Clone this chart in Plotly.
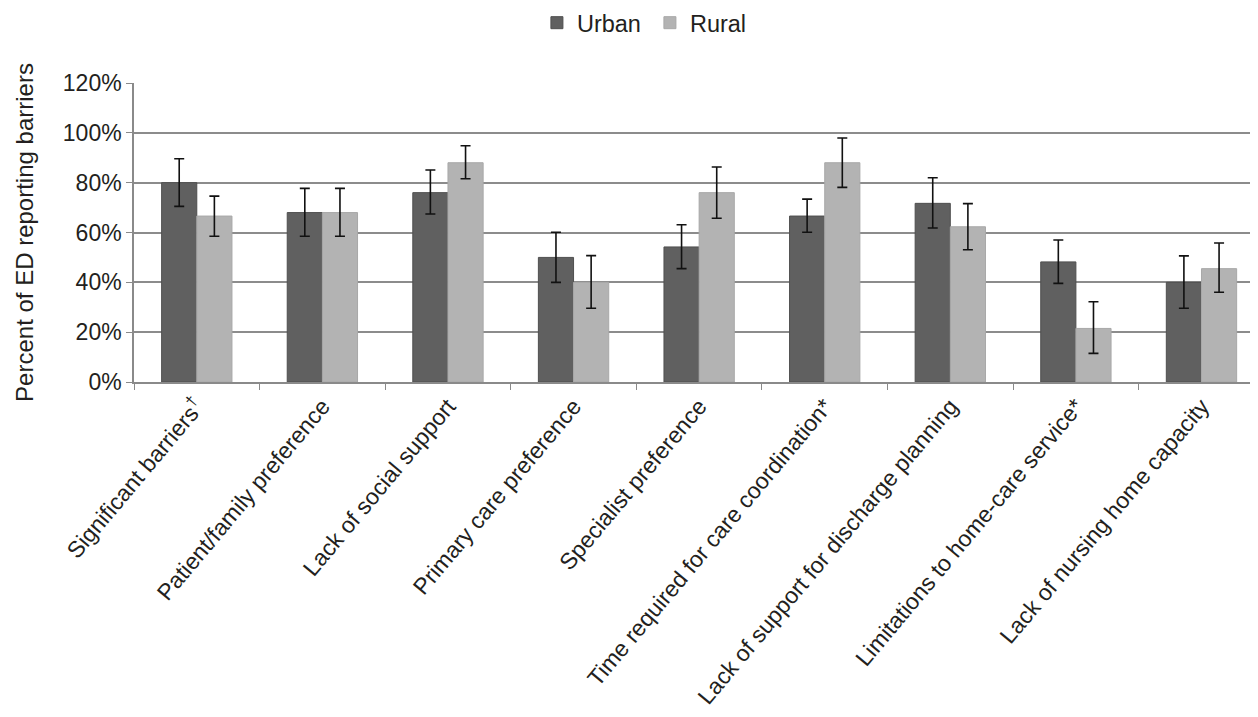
import plotly.graph_objects as go

categories = [
    "Significant barriers<sup>†</sup>",
    "Patient/family preference",
    "Lack of social support",
    "Primary care preference",
    "Specialist preference",
    "Time required for care coordination*",
    "Lack of support for discharge planning",
    "Limitations to home-care service*",
    "Lack of nursing home capacity",
]

urban = [80.0, 68.0, 76.0, 50.0, 54.2, 66.6, 71.7, 48.2, 40.0]
urban_hi = [89.6, 77.7, 85.1, 60.1, 63.1, 73.4, 82.0, 57.0, 50.6]
urban_lo = [70.5, 58.5, 67.4, 40.0, 45.5, 60.1, 61.8, 39.6, 29.6]

rural = [66.6, 68.0, 88.0, 40.0, 76.0, 88.0, 62.3, 21.5, 45.5]
rural_hi = [74.6, 77.7, 94.8, 50.7, 86.3, 97.9, 71.6, 32.2, 55.8]
rural_lo = [58.5, 58.5, 81.6, 29.6, 65.7, 78.1, 53.1, 11.5, 36.0]

y_ticks = [0, 20, 40, 60, 80, 100, 120]
y_tick_text = ["0%", "20%", "40%", "60%", "80%", "100%", "120%"]

FONT = "Liberation Sans, Arial, sans-serif"
TXT = "#231f20"


def plus(v, hi):
    return [h - x for x, h in zip(v, hi)]


def minus(v, lo):
    return [x - l for x, l in zip(v, lo)]


fig = go.Figure()
fig.add_trace(go.Bar(
    name="Urban", x=categories, y=urban,
    marker=dict(color="#606060", line=dict(color="#4f4f4f", width=1)),
    error_y=dict(type="data", symmetric=False, array=plus(urban, urban_hi),
                 arrayminus=minus(urban, urban_lo), color="#111111",
                 thickness=1.6, width=5),
))
fig.add_trace(go.Bar(
    name="Rural", x=categories, y=rural,
    marker=dict(color="#b3b3b3", line=dict(color="#a8a8a8", width=1)),
    error_y=dict(type="data", symmetric=False, array=plus(rural, rural_hi),
                 arrayminus=minus(rural, rural_lo), color="#111111",
                 thickness=1.6, width=5),
))

# page body has an 8px margin; figure sized so the plot lands where the reference has it
fig.update_layout(
    width=1250, height=709,
    paper_bgcolor="white", plot_bgcolor="white",
    margin=dict(l=126, r=0, t=75, b=335, autoexpand=False),
    barmode="group", bargap=0.44, bargroupgap=0.0,
    font=dict(family=FONT, size=23, color=TXT),
    showlegend=True,
    legend=dict(orientation="h", x=0.459, xanchor="center", y=1.201, yanchor="middle",
                font=dict(family=FONT, size=23.5, color=TXT),
                itemwidth=30, entrywidth=68, entrywidthmode="pixels",
                traceorder="normal", bgcolor="rgba(0,0,0,0)"),
    xaxis=dict(
        range=[-0.5, 8.45], tickangle=-50, tickson="boundaries",
        ticks="outside", ticklen=6, tickcolor="#8a8a8a",
        showline=True, linecolor="#8a8a8a", linewidth=1.5,
        showgrid=False, tickfont=dict(family=FONT, size=23, color=TXT),
    ),
    yaxis=dict(
        range=[0, 120], tickvals=y_ticks, ticktext=y_tick_text,
        ticks="outside", ticklen=6, tickcolor="#8a8a8a",
        showline=True, linecolor="#8a8a8a", linewidth=1.5,
        showgrid=True, gridcolor="#8c8c8c", gridwidth=1.5,
        zeroline=False, tickfont=dict(family=FONT, size=23, color=TXT),
        title=dict(text="Percent of ED reporting barriers", standoff=22,
                   font=dict(family=FONT, size=24, color=TXT)),
    ),
)

fig.write_html("out.html")
